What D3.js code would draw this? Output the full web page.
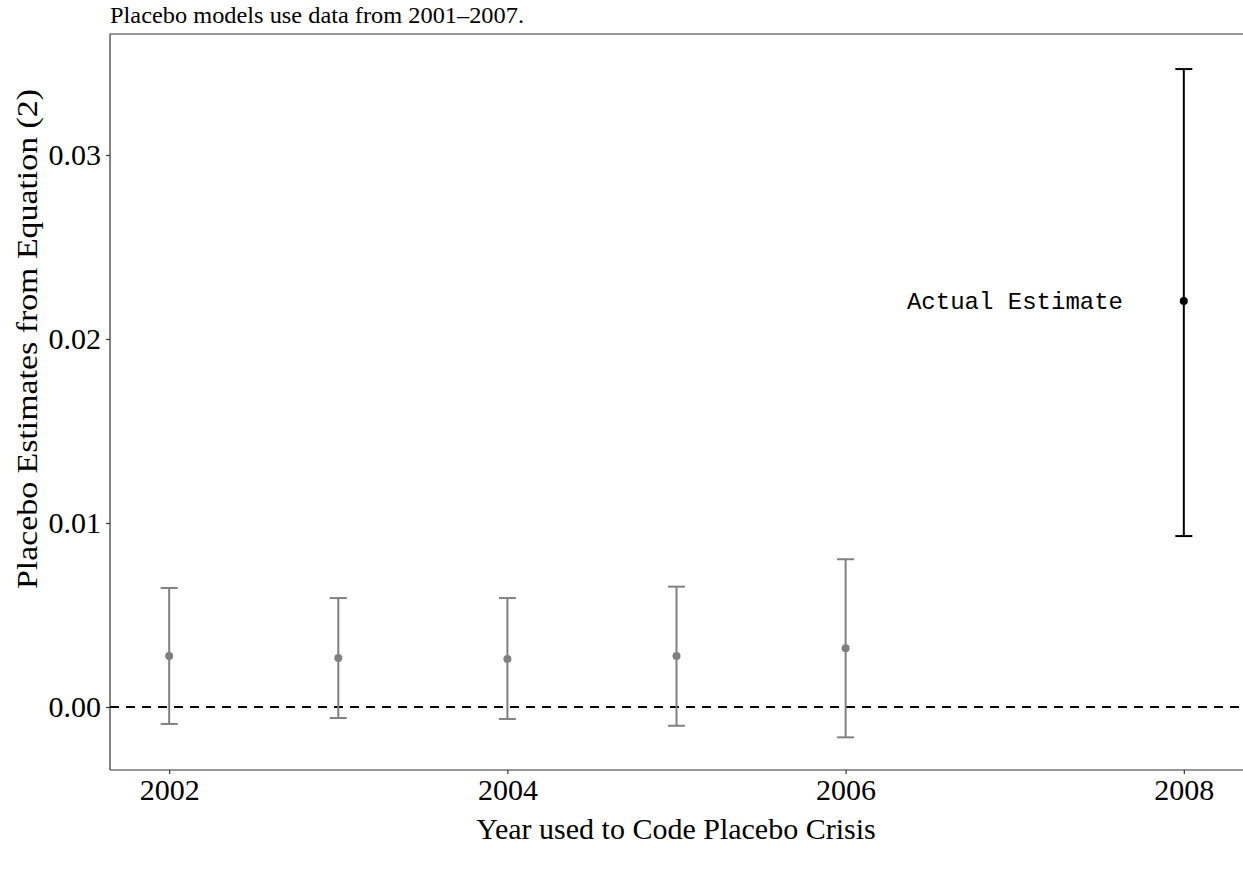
<!DOCTYPE html>
<html>
<head>
<meta charset="utf-8">
<script src="https://cdn.jsdelivr.net/npm/d3@7"></script>
<style>
  body { margin: 0; background: #fff; }
</style>
</head>
<body>
<script>
// placebo estimates by year, 2008 is the actual estimate
var years = [2002, 2003, 2004, 2005, 2006, 2008];
var estimates = [0.00277, 0.00266, 0.00261, 0.00277, 0.00319, 0.02207];
var lower = [-0.00092, -0.00060, -0.00065, -0.00102, -0.00165, 0.00929];
var upper = [0.00647, 0.00592, 0.00592, 0.00654, 0.00803, 0.03467];
var isActual = [false, false, false, false, false, true];
var xTicks = [2002, 2004, 2006, 2008];
var yTicks = [0.00, 0.01, 0.02, 0.03];

var width = 1243;
var height = 869;
var margin = {top: 34, right: 0, bottom: 99, left: 110};

var svg = d3.select('body')
    .append('svg')
    .attr('width', width)
    .attr('height', height);

var x = d3.scaleLinear()
    .domain([2001.65, 2008.35])
    .range([margin.left, width - margin.right]);

var y = d3.scaleLinear()
    .domain([-0.003424, 0.036576])
    .range([height - margin.bottom, margin.top]);

var serif = "'Liberation Serif', 'Times New Roman', serif";

// top border of the panel
svg.append("line")
    .attr("x1", margin.left).attr("x2", width)
    .attr("y1", margin.top).attr("y2", margin.top)
    .attr("stroke", "#333").attr("stroke-width", 1.2);

var xAxis = svg.append("g")
    .attr("transform", "translate(0," + (height - margin.bottom) + ")")
    .call(d3.axisBottom(x).tickValues(xTicks).tickFormat(d3.format("d")).tickSize(4).tickPadding(5));

var yAxis = svg.append("g")
    .attr("transform", "translate(" + margin.left + ",0)")
    .call(d3.axisLeft(y).tickValues(yTicks).tickFormat(d3.format(".2f")).tickSize(4).tickPadding(5));

[xAxis, yAxis].forEach(function (g) {
    g.select(".domain").attr("stroke", "#333").attr("stroke-width", 1.2);
    g.selectAll(".tick line").attr("stroke", "#333").attr("stroke-width", 1.2);
    g.selectAll("text")
        .attr("font-family", serif)
        .attr("font-size", "30px")
        .attr("fill", "#000");
});
// domain lines without end ticks
xAxis.select(".domain").attr("d", "M" + margin.left + ",0H" + width);
yAxis.select(".domain").attr("d", "M0," + margin.top + "V" + (height - margin.bottom));

// zero reference line
svg.append("line")
    .attr("x1", margin.left).attr("x2", width)
    .attr("y1", y(0)).attr("y2", y(0))
    .attr("stroke", "#000")
    .attr("stroke-width", 2)
    .attr("stroke-dasharray", "9,7");

var data = years.map(function (yr, i) {
    return {year: yr, est: estimates[i], lo: lower[i], hi: upper[i], actual: isActual[i]};
});

var capHalf = 8.5;
var colour = function (d) { return d.actual ? "#000" : "#808080"; };

var bars = svg.selectAll("g.bar")
    .data(data)
    .enter()
    .append("g")
    .attr("class", "bar");

bars.append("line")
    .attr("x1", function (d) { return x(d.year); })
    .attr("x2", function (d) { return x(d.year); })
    .attr("y1", function (d) { return y(d.lo); })
    .attr("y2", function (d) { return y(d.hi); })
    .attr("stroke", colour)
    .attr("stroke-width", 2);

bars.append("line")
    .attr("x1", function (d) { return x(d.year) - capHalf; })
    .attr("x2", function (d) { return x(d.year) + capHalf; })
    .attr("y1", function (d) { return y(d.lo); })
    .attr("y2", function (d) { return y(d.lo); })
    .attr("stroke", colour)
    .attr("stroke-width", 2);

bars.append("line")
    .attr("x1", function (d) { return x(d.year) - capHalf; })
    .attr("x2", function (d) { return x(d.year) + capHalf; })
    .attr("y1", function (d) { return y(d.hi); })
    .attr("y2", function (d) { return y(d.hi); })
    .attr("stroke", colour)
    .attr("stroke-width", 2);

bars.append("circle")
    .attr("cx", function (d) { return x(d.year); })
    .attr("cy", function (d) { return y(d.est); })
    .attr("r", 4)
    .attr("fill", colour);

// annotation
svg.append("text")
    .attr("x", 1123)
    .attr("y", y(0.02207) + 8)
    .attr("text-anchor", "end")
    .attr("font-family", "'Liberation Mono', 'Courier New', monospace")
    .attr("font-size", "24px")
    .attr("fill", "#000")
    .text("Actual Estimate");

// subtitle
svg.append("text")
    .attr("x", margin.left)
    .attr("y", 23)
    .attr("font-family", serif)
    .attr("font-size", "23px")
    .attr("textLength", 414)
    .attr("lengthAdjust", "spacingAndGlyphs")
    .attr("fill", "#000")
    .text("Placebo models use data from 2001\u20132007.");

// axis titles
svg.append("text")
    .attr("x", 676)
    .attr("y", 839)
    .attr("text-anchor", "middle")
    .attr("font-family", serif)
    .attr("font-size", "30px")
    .attr("fill", "#000")
    .text("Year used to Code Placebo Crisis");

svg.append("text")
    .attr("transform", "translate(37,339) rotate(-90)")
    .attr("text-anchor", "middle")
    .attr("font-family", serif)
    .attr("font-size", "30px")
    .attr("textLength", 500)
    .attr("lengthAdjust", "spacingAndGlyphs")
    .attr("fill", "#000")
    .text("Placebo Estimates from Equation (2)");
</script>
</body>
</html>
